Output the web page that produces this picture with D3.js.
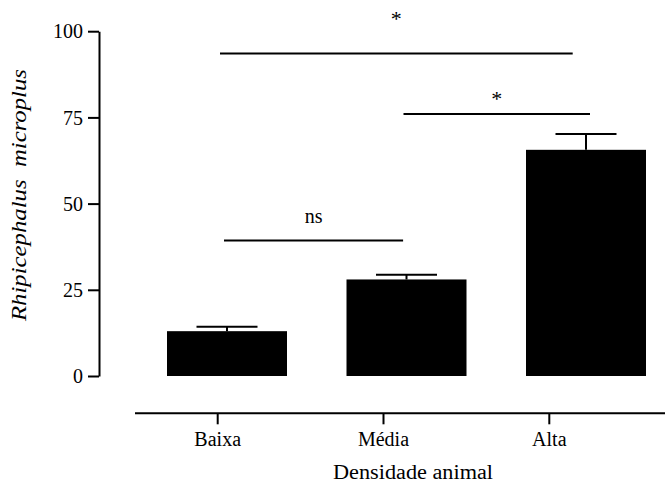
<!DOCTYPE html>
<html>
<head>
<meta charset="utf-8">
<script src="https://cdn.jsdelivr.net/npm/d3@7"></script>
<style>
  html, body { margin: 0; padding: 0; background: #fff; }
  svg { display: block; }
  svg text { font-family: 'Liberation Serif', 'Times New Roman', serif !important; fill: #000; }
</style>
</head>
<body>
<svg id="chart" width="665" height="485"></svg>
<script>
// Tick density by animal stocking level (mean + SEM)
const categories = ["Baixa", "Média", "Alta"];
const means = [13, 28, 65.6];
const errors = [1.3, 1.4, 4.6];
const yTicks = [0, 25, 50, 75, 100];

// Pairwise comparisons: from, to, bracket level, label
const compFrom = ["Baixa", "Média", "Baixa"];
const compTo = ["Média", "Alta", "Alta"];
const compLevel = [39.3, 76.0, 93.5];
const compLabel = ["ns", "*", "*"];

const serif = "'Liberation Serif', 'Times New Roman', serif";
const svg = d3.select("#chart");

const y = d3.scaleLinear().domain([0, 100]).range([376, 31.2]);
const xBar = d3.scalePoint().domain(categories).range([227, 586]);
const barW = 120;
const xAxisScale = d3.scalePoint().domain(categories).range([217.7, 549.3]);

// Bars
svg.selectAll("rect.bar")
  .data(categories)
  .join("rect")
  .attr("class", "bar")
  .attr("x", d => xBar(d) - barW / 2)
  .attr("y", (d, i) => y(means[i]))
  .attr("width", barW)
  .attr("height", (d, i) => y(0) - y(means[i]))
  .attr("fill", "#000");

// Error bars (upper only)
const eb = svg.selectAll("g.err").data(categories).join("g").attr("class", "err");
eb.append("line")
  .attr("x1", d => xBar(d)).attr("x2", d => xBar(d))
  .attr("y1", (d, i) => y(means[i]))
  .attr("y2", (d, i) => y(means[i] + errors[i]))
  .attr("stroke", "#000").attr("stroke-width", 2);
eb.append("line")
  .attr("x1", d => xBar(d) - 30.5).attr("x2", d => xBar(d) + 30.5)
  .attr("y1", (d, i) => y(means[i] + errors[i]))
  .attr("y2", (d, i) => y(means[i] + errors[i]))
  .attr("stroke", "#000").attr("stroke-width", 2);

// Y axis
const yAxis = svg.append("g")
  .attr("transform", "translate(99,0)")
  .call(d3.axisLeft(y).tickValues(yTicks).tickSize(11).tickPadding(5).tickSizeOuter(0));
yAxis.attr("font-family", serif).attr("font-size", 20);
yAxis.select(".domain").attr("stroke-width", 2);
yAxis.selectAll(".tick line").attr("stroke-width", 2);
yAxis.selectAll(".tick text").attr("dy", "0.33em");

// X axis (category axis drawn below the bars)
const xAxisG = svg.append("g").attr("transform", "translate(0,413.3)");
xAxisG.append("line")
  .attr("x1", 135).attr("x2", 665).attr("y1", 0).attr("y2", 0)
  .attr("stroke", "#000").attr("stroke-width", 2);
const xt = xAxisG.selectAll("g.tick").data(categories).join("g")
  .attr("class", "tick")
  .attr("transform", d => `translate(${xAxisScale(d)},0)`);
xt.append("line").attr("y1", 0).attr("y2", 11).attr("stroke", "#000").attr("stroke-width", 2);
xt.append("text")
  .attr("y", 32.7)
  .attr("text-anchor", "middle")
  .attr("font-size", 20)
  .text(d => d);

// Axis titles (stretched to their full width)
svg.append("text")
  .attr("x", 413).attr("y", 479)
  .attr("text-anchor", "middle")
  .attr("font-size", 20)
  .attr("textLength", 160)
  .attr("lengthAdjust", "spacingAndGlyphs")
  .text("Densidade animal");

svg.append("text")
  .attr("transform", "translate(26,195) rotate(-90)")
  .attr("text-anchor", "middle")
  .attr("font-size", 20)
  .attr("font-style", "italic")
  .attr("textLength", 252)
  .attr("lengthAdjust", "spacingAndGlyphs")
  .style("white-space", "pre")
  .text("Rhipicephalus  microplus");

// Comparison brackets
const lineStart = i => xBar(compFrom[i]) - (i === 2 ? 7 : 3);
const lineEnd = i => xBar(compTo[i]) + (i === 2 ? -13.3 : (i === 0 ? -3.4 : 4));
const labelGap = [17.7, 8, 28];
const compG = svg.selectAll("g.comp").data(compLabel).join("g").attr("class", "comp");
compG.append("line")
  .attr("x1", (d, i) => lineStart(i))
  .attr("x2", (d, i) => lineEnd(i))
  .attr("y1", (d, i) => y(compLevel[i]))
  .attr("y2", (d, i) => y(compLevel[i]))
  .attr("stroke", "#000").attr("stroke-width", 2);
compG.append("text")
  .attr("x", (d, i) => (lineStart(i) + lineEnd(i)) / 2)
  .attr("y", (d, i) => y(compLevel[i]) - labelGap[i])
  .attr("text-anchor", "middle")
  .attr("font-size", (d) => d === "ns" ? 20 : 22)
  .text(d => d);
</script>
</body>
</html>
